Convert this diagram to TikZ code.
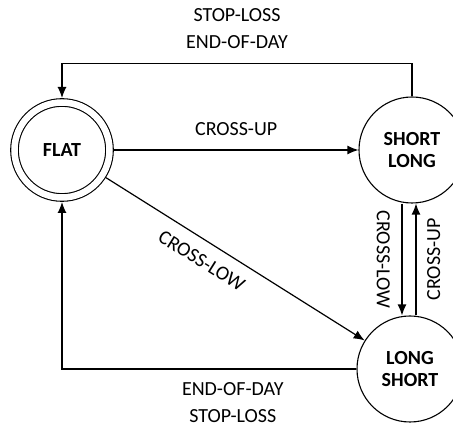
\documentclass[tikz,border=0pt]{standalone}
\usepackage{fontspec}
\setmainfont{Carlito}
\usepackage{tikz}
\usetikzlibrary{arrows.meta,positioning,calc}

\begin{document}
\begin{tikzpicture}[
      x=1pt, y=1pt,
      state/.style={circle, draw=black, line width=1.1pt, minimum size=106pt, inner sep=0pt, font=\fontsize{20}{22}\selectfont\bfseries, align=center},
      arrow/.style={-{Latex[length=11pt,width=9pt]}, line width=1.2pt},
      lbl/.style={font=\fontsize{20}{27}\selectfont, align=center},
    ]
    \useasboundingbox (0, 0) rectangle (453, 425);
    % States
    \node [state, double, double distance=6.5pt, minimum size=95pt, outer sep=4.5pt] (flat) at (62, 275) {FLAT};
    \node [state] (shortlong) at (412, 275) {SHORT\\LONG};
    \node [state] (longshort) at (410, 56) {LONG\\SHORT};
    % Entries from flat
    \draw [arrow] (flat) -- (shortlong) node [lbl, midway, above=10pt] (upa) {CROSS-UP};
    \draw [arrow] (flat) -- (longshort) node [lbl, pos=0.41, sloped, below=9pt] (lowa) {CROSS-LOW};
    % Reversals
    \draw [arrow] ([xshift=-10pt]shortlong.south) -- ([xshift=-8pt]longshort.north) node [lbl, midway, rotate=-90, anchor=north, inner ysep=11.5pt] (lowb) {CROSS-LOW};
    \draw [arrow] ([xshift=6pt]longshort.north) -- ([xshift=4pt]shortlong.south) node [lbl, midway, rotate=90, anchor=north, inner ysep=10.5pt] (upb) {CROSS-UP};
    % Exits back to flat
    \draw [arrow] (shortlong.north) -- ++(0, 33) -| (flat.north) node [lbl, pos=0.25, above=11pt] (exita) {STOP-LOSS\\END-OF-DAY};
    \draw [arrow] (longshort.west) -| (flat.south) node [lbl, pos=0.21, below=9.5pt] (exitb) {END-OF-DAY\\STOP-LOSS};
  \end{tikzpicture}
\end{document}
